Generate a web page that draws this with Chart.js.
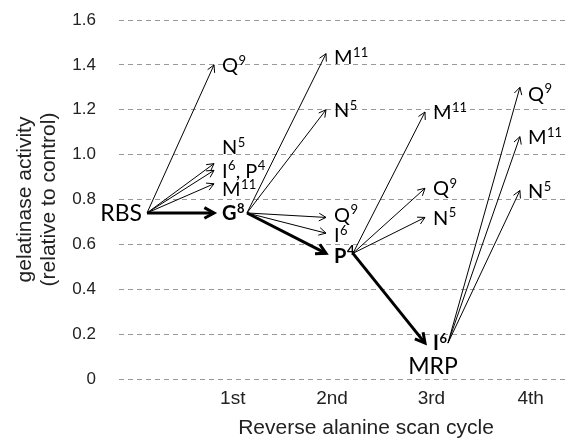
<!DOCTYPE html>
<html>
<head>
<meta charset="utf-8">
<script src="https://cdn.jsdelivr.net/npm/chart.js@4.4.0/dist/chart.umd.min.js"></script>
<style>
  body { margin: 0; background: #fff; }
</style>
</head>
<body>
<canvas id="graph" width="567" height="440"></canvas>
<script>
const cycleTicks = ['1st', '2nd', '3rd', '4th']

// starting point of each cycle (RBS, then the pick of the previous cycle)
const parents = ['RBS', 'G8', 'P4', 'I6']
const parentActivity = [0.74, 0.74, 0.56, 0.16]

// variants tried in each cycle, gelatinase activity relative to control
const cycle1Names = ['Q9', 'N5', 'I6, P4', 'M11', 'G8']
const cycle1Activity = [1.40, 0.96, 0.93, 0.87, 0.74]
const cycle2Names = ['M11', 'N5', 'Q9', 'I6', 'P4']
const cycle2Activity = [1.45, 1.20, 0.72, 0.65, 0.56]
const cycle3Names = ['M11', 'Q9', 'N5', 'I6']
const cycle3Activity = [1.19, 0.85, 0.72, 0.16]
const cycle4Names = ['Q9', 'M11', 'N5']
const cycle4Activity = [1.30, 1.08, 0.84]

const picked = ['G8', 'P4', 'I6']

// where arrows leave / land on the cycle axis
const tailX = [0.136, 1.143, 2.21, 3.167]
const tipX = [0.811, 1.939, 2.936, 3.892]
// small nudges so labels don't collide (px)
const labelShift = {'1:N5': -17, '1:M11': 5, '2:M11': 3, '2:Q9': -3, '2:I6': 2, '2:P4': 2, '4:Q9': 6}

const cycles = [
    [cycle1Names, cycle1Activity],
    [cycle2Names, cycle2Activity],
    [cycle3Names, cycle3Activity],
    [cycle4Names, cycle4Activity]
]

let datasets = []
cycles.forEach(([names, vals], c) => {
    names.forEach((n, i) => {
        let bold = n === picked[c]
        datasets.push({
            label: n,
            cycle: c + 1,
            bold: bold,
            data: [{x: tailX[c], y: parentActivity[c]}, {x: tipX[c], y: vals[i]}],
            borderColor: '#000',
            borderWidth: bold ? 3 : 1,
            pointRadius: 0,
            tension: 0
        })
    })
})

function drawLabel(ctx, text, left, cy, bold, size) {
    let base = cy + size * 0.36
    let x = left
    let w = bold ? 'bold ' : ''
    ctx.textAlign = 'left'
    ctx.textBaseline = 'alphabetic'
    text.split(', ').forEach((part, k) => {
        if (k > 0) {
            ctx.font = w + size + 'px Lato'
            ctx.fillText(', ', x, base)
            x += ctx.measureText(', ').width
        }
        ctx.font = w + size + 'px Lato'
        ctx.fillText(part[0], x, base)
        x += ctx.measureText(part[0]).width + 0.5
        let sup = part.slice(1)
        ctx.font = w + Math.round(size * 0.66) + 'px Lato'
        ctx.fillText(sup, x, base - size * 0.36)
        x += ctx.measureText(sup).width
    })
}

const arrows = {
    id: 'arrows',
    afterDatasetsDraw(chart) {
        const ctx = chart.ctx
        const xs = chart.scales.x, ys = chart.scales.y
        ctx.save()
        ctx.fillStyle = '#000'
        ctx.strokeStyle = '#000'
        chart.data.datasets.forEach(ds => {
            let x0 = xs.getPixelForValue(ds.data[0].x), y0 = ys.getPixelForValue(ds.data[0].y)
            let x1 = xs.getPixelForValue(ds.data[1].x), y1 = ys.getPixelForValue(ds.data[1].y)
            let a = Math.atan2(y1 - y0, x1 - x0)
            let len = ds.bold ? 11 : 8
            ctx.lineWidth = ds.borderWidth
            ctx.lineJoin = 'miter'
            ctx.beginPath()
            ctx.moveTo(x1 - len * Math.cos(a - 0.5), y1 - len * Math.sin(a - 0.5))
            ctx.lineTo(x1, y1)
            ctx.lineTo(x1 - len * Math.cos(a + 0.5), y1 - len * Math.sin(a + 0.5))
            ctx.stroke()
            drawLabel(ctx, ds.label, x1 + 8, y1 + (labelShift[ds.cycle + ':' + ds.label] || 0), ds.bold, 20)
        })
        // start
        ctx.font = '23px Lato'
        ctx.textAlign = 'right'
        ctx.textBaseline = 'alphabetic'
        ctx.fillText(parents[0], xs.getPixelForValue(tailX[0]) - 5, ys.getPixelForValue(parentActivity[0]) + 8)
        // final variant
        ctx.textAlign = 'center'
        ctx.fillText('MRP', xs.getPixelForValue(tipX[2]) + 8, ys.getPixelForValue(parentActivity[3]) + 31)
        // x axis title
        ctx.font = '21px "Liberation Sans", Arial'
        ctx.fillStyle = '#222'
        ctx.fillText('Reverse alanine scan cycle', 366, 434)
        ctx.restore()
    }
}

let graph = document.getElementById('graph').getContext('2d')

new Chart(graph, {
    type: 'line',
    data: { datasets: datasets },
    options: {
        responsive: false,
        animation: false,
        devicePixelRatio: 1,
        layout: { padding: { top: 20, left: 0, right: 0, bottom: 0 } },
        plugins: { legend: { display: false }, tooltip: { enabled: false } },
        scales: {
            x: {
                type: 'linear',
                min: -0.146,
                max: 4.366,
                afterBuildTicks: s => { s.ticks = [1, 2, 3, 4].map(v => ({value: v})) },
                afterFit: s => { s.height = 61 },
                grid: { display: false },
                border: { display: false },
                ticks: {
                    callback: v => cycleTicks[v - 1],
                    font: { family: '"Liberation Sans", Arial', size: 19 },
                    color: '#222',
                    padding: 0,
                    maxRotation: 0,
                    autoSkip: false
                }
            },
            y: {
                min: 0,
                max: 1.6,
                afterFit: s => { s.width = 119; s.paddingTop = 0; s.paddingBottom = 0 },
                grid: { color: '#999', lineWidth: 1, drawTicks: false },
                border: { display: false, dash: [5, 4] },
                ticks: {
                    stepSize: 0.2,
                    callback: v => v === 0 ? '0' : v.toFixed(1),
                    font: { family: '"Liberation Sans", Arial', size: 17 },
                    color: '#222',
                    padding: 23
                },
                title: {
                    display: true,
                    text: ['gelatinase activity', '(relative to control)'],
                    font: { family: '"Liberation Sans", Arial', size: 21, lineHeight: 1.15 },
                    color: '#222',
                    padding: { top: 13, bottom: 0 }
                }
            }
        }
    },
    plugins: [arrows]
})
</script>
</body>
</html>
